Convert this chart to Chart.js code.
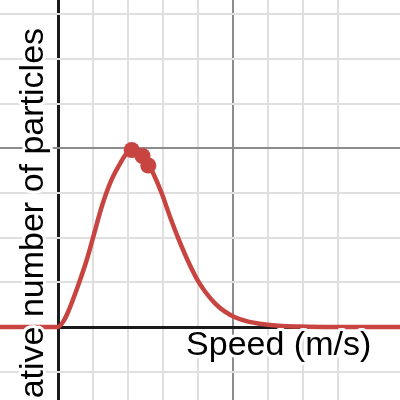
<!DOCTYPE html>
<html>
<head>
<meta charset="utf-8">
<script src="https://cdn.jsdelivr.net/npm/chart.js@4/dist/chart.umd.min.js"></script>
<style>
html,body{margin:0;padding:0;background:#fff;}
#wrap{width:400px;height:400px;}
</style>
</head>
<body>
<div id="wrap"><canvas id="c" width="400" height="400"></canvas></div>
<script>
// Curve (x in minor grid units, y in minor grid units)
const curveX = [-1.66, 0, 0.151, 0.294, 0.58, 0.82, 1.009, 1.249, 1.486, 1.723, 1.963, 2.1, 2.257, 2.429, 2.58, 2.723, 2.963, 3.2, 3.437, 3.723, 4.009, 4.2, 4.486, 4.771, 5.057, 5.437, 5.82, 6.294, 6.914, 7.771, 9.78];
const curveY = [0, 0, 0.123, 0.347, 0.940, 1.499, 2.020, 2.691, 3.215, 3.586, 3.886, 3.953, 3.922, 3.814, 3.647, 3.434, 2.991, 2.468, 1.984, 1.461, 1.018, 0.794, 0.530, 0.342, 0.217, 0.119, 0.067, 0.029, 0.011, 0, 0];
// Highlighted points near the peak
const markerX = [2.106, 2.414, 2.58];
const markerY = [3.960, 3.826, 3.613];
// Axis labels
const xLabel = "Speed (m/s)";
const yLabel = "Relative number of particles";
// View window
const xRange = [-58/35, 342/35];
const yRange = [-(400-327)/44.7, 327/44.7];
const xMajorEvery = 5;
const yMajorEvery = 4;

const RED = '#c74440';
const curve = curveX.map((x,i)=>({x, y: curveY[i]}));
const markers = markerX.map((x,i)=>({x, y: markerY[i]}));

function gridColor(every){
  return ctx => {
    const v = ctx.tick ? ctx.tick.value : null;
    if (v === null || Math.abs(v - Math.round(v)) > 1e-6) return 'rgba(0,0,0,0)';
    const r = Math.round(v);
    if (r === 0) return '#1a1a1a';
    if (r % every === 0) return '#8c8c8c';
    return '#dfdfdf';
  };
}
function gridWidth(every){
  return ctx => {
    const v = ctx.tick ? ctx.tick.value : null;
    if (v === null) return 0;
    const r = Math.round(v);
    if (r === 0) return 3;
    return 2;
  };
}

const labelPlugin = {
  id: 'labels',
  afterDatasetsDraw(chart){
    const c = chart.ctx;
    const xs = chart.scales.x, ys = chart.scales.y;
    c.save();
    c.font = '34px "Liberation Sans", Arial, sans-serif';
    c.lineJoin = 'round';
    c.strokeStyle = '#ffffff';
    c.lineWidth = 6;
    c.fillStyle = '#000000';
    // x label
    const lx = xs.getPixelForValue(3.66), ly = ys.getPixelForValue(-0.633);
    c.textAlign = 'left'; c.textBaseline = 'alphabetic';
    c.strokeText(xLabel, lx, ly);
    c.fillText(xLabel, lx, ly);
    // y label (rotated)
    const tx = xs.getPixelForValue(-0.44), ty = ys.getPixelForValue(6.69);
    c.translate(tx, ty);
    c.rotate(-Math.PI/2);
    c.textAlign = 'right';
    c.strokeText(yLabel, 0, 0);
    c.fillText(yLabel, 0, 0);
    c.restore();
  }
};

new Chart(document.getElementById('c'), {
  type: 'scatter',
  data: {
    datasets: [
      {data: curve, showLine: true, borderColor: RED, borderWidth: 4.5, pointRadius: 0, cubicInterpolationMode: 'monotone', fill: false, order: 2},
      {data: markers, showLine: false, pointRadius: 8, pointBackgroundColor: RED, pointBorderColor: RED, pointBorderWidth: 0, order: 1}
    ]
  },
  options: {
    responsive: false,
    animation: false,
    events: [],
    layout: {padding: 0, autoPadding: false},
    plugins: {legend: {display: false}, tooltip: {enabled: false}},
    scales: {
      x: {type: 'linear', min: xRange[0], max: xRange[1], ticks: {display: false, stepSize: 1}, border: {display: false},
          grid: {drawTicks: false, color: gridColor(xMajorEvery), lineWidth: gridWidth(xMajorEvery)}},
      y: {type: 'linear', min: yRange[0], max: yRange[1], ticks: {display: false, stepSize: 1}, border: {display: false},
          grid: {drawTicks: false, color: gridColor(yMajorEvery), lineWidth: gridWidth(yMajorEvery)}}
    }
  },
  plugins: [labelPlugin]
});
</script>
</body>
</html>
